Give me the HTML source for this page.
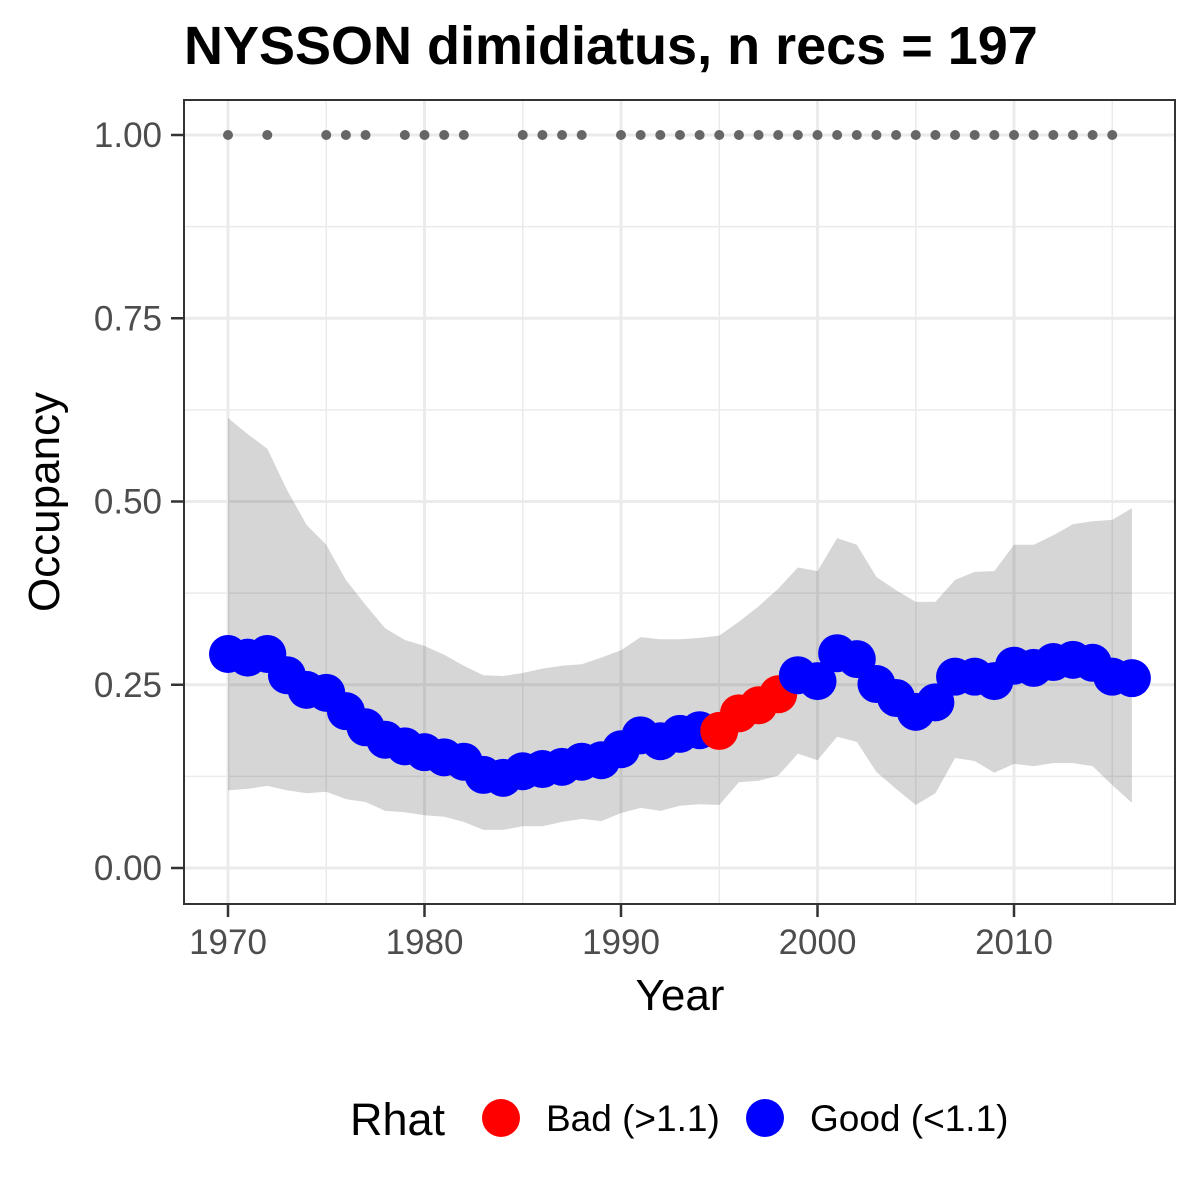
<!DOCTYPE html>
<html><head><meta charset="utf-8"><style>
html,body{margin:0;padding:0;background:#fff;}
svg{display:block;font-family:"Liberation Sans",Arial,sans-serif;}
</style></head><body>
<svg id="chart" width="1200" height="1200" viewBox="0 0 1200 1200">
<text x="184" y="64" font-size="54" font-weight="bold" fill="#000">NYSSON dimidiatus, n recs = 197</text>
<g id="grid"></g>
<g id="ribbon"></g>
<g id="recs"></g>
<g id="pts"></g>
<rect x="184" y="100" width="991" height="804" fill="none" stroke="#333" stroke-width="2"/>
<g id="axes"></g>
<text x="680" y="1010" font-size="44" text-anchor="middle" fill="#000">Year</text>
<text transform="translate(59,502) rotate(-90)" font-size="44" text-anchor="middle" fill="#000">Occupancy</text>
<g>
<text x="350" y="1135" font-size="45" fill="#000">Rhat</text>
<circle cx="501" cy="1118" r="19" fill="#ff0000"/>
<text x="546" y="1131" font-size="37" fill="#000">Bad (&gt;1.1)</text>
<circle cx="765" cy="1118" r="19" fill="#0000ff"/>
<text x="810" y="1131" font-size="37" fill="#000">Good (&lt;1.1)</text>
</g>
</svg>
<script>
const years = [1970,1971,1972,1973,1974,1975,1976,1977,1978,1979,1980,1981,1982,1983,1984,1985,1986,1987,1988,1989,1990,1991,1992,1993,1994,1995,1996,1997,1998,1999,2000,2001,2002,2003,2004,2005,2006,2007,2008,2009,2010,2011,2012,2013,2014,2015,2016];
const meanOcc = [0.292,0.287,0.292,0.263,0.243,0.239,0.214,0.192,0.175,0.166,0.158,0.151,0.145,0.127,0.123,0.132,0.135,0.138,0.145,0.147,0.162,0.181,0.173,0.183,0.188,0.187,0.211,0.222,0.237,0.263,0.255,0.293,0.285,0.251,0.232,0.213,0.226,0.261,0.261,0.255,0.276,0.273,0.281,0.284,0.280,0.261,0.259];
const upperCI = [0.614,0.592,0.572,0.516,0.468,0.441,0.393,0.359,0.327,0.311,0.303,0.291,0.276,0.263,0.262,0.266,0.272,0.276,0.278,0.287,0.297,0.315,0.312,0.312,0.314,0.317,0.336,0.357,0.381,0.410,0.405,0.450,0.441,0.397,0.379,0.363,0.363,0.393,0.404,0.405,0.441,0.441,0.454,0.469,0.473,0.475,0.491];
const lowerCI = [0.106,0.108,0.112,0.106,0.102,0.104,0.094,0.090,0.078,0.076,0.072,0.070,0.063,0.052,0.052,0.057,0.057,0.063,0.067,0.064,0.075,0.082,0.078,0.085,0.087,0.086,0.117,0.119,0.126,0.156,0.147,0.179,0.172,0.131,0.108,0.086,0.102,0.150,0.146,0.130,0.142,0.139,0.143,0.143,0.139,0.113,0.089];
const rhatBad = [1995,1996,1997,1998];
const recordYears = [1970,1972,1975,1976,1977,1979,1980,1981,1982,1985,1986,1987,1988,1990,1991,1992,1993,1994,1995,1996,1997,1998,1999,2000,2001,2002,2003,2004,2005,2006,2007,2008,2009,2010,2011,2012,2013,2014,2015];
const xTicks = [1970,1980,1990,2000,2010];
const xMinor = [1975,1985,1995,2005,2015];
const yTicks = [0,0.25,0.5,0.75,1];
const yTickLabels = ["0.00","0.25","0.50","0.75","1.00"];
const yMinor = [0.125,0.375,0.625,0.875];

const NS = "http://www.w3.org/2000/svg";
const X = y => 228 + (y - 1970) * 19.65;
const Y = v => 868 - v * 733;
function mk(tag, attrs, parent){
  const e = document.createElementNS(NS, tag);
  for (const k in attrs) e.setAttribute(k, attrs[k]);
  parent.appendChild(e);
  return e;
}
const grid = document.getElementById('grid');
yMinor.forEach(v=>{const l=mk('line',{x1:184,x2:1175,y1:Y(v),y2:Y(v),stroke:'#ebebeb','stroke-width':1.5},grid);

});
xMinor.forEach(v=>{const l=mk('line',{x1:X(v),x2:X(v),y1:100,y2:904,stroke:'#ebebeb','stroke-width':1.5},grid);

});
yTicks.forEach(v=>{const l=mk('line',{x1:184,x2:1175,y1:Y(v),y2:Y(v),stroke:'#ebebeb','stroke-width':3},grid);

});
xTicks.forEach(v=>{const l=mk('line',{x1:X(v),x2:X(v),y1:100,y2:904,stroke:'#ebebeb','stroke-width':3},grid);

});

let d = years.map((y,i)=>(i?'L':'M')+X(y)+','+Y(upperCI[i])).join('');
for (let i=years.length-1;i>=0;i--) d += 'L'+X(years[i])+','+Y(lowerCI[i]);
const rib = mk('path',{d:d+'Z',fill:'#333333','fill-opacity':0.2},document.getElementById('ribbon'));



const recs = document.getElementById('recs');
recordYears.forEach(y=>{const c=mk('circle',{cx:X(y),cy:Y(1),r:5,fill:'#666666'},recs);

});

const pts = document.getElementById('pts');
years.forEach((y,i)=>{const bad=rhatBad.includes(y);
const c=mk('circle',{cx:X(y),cy:Y(meanOcc[i]),r:19,fill:bad?'#ff0000':'#0000ff'},pts);

});

const axes = document.getElementById('axes');
yTicks.forEach((v,i)=>{
  const t=mk('line',{x1:171,x2:184,y1:Y(v),y2:Y(v),stroke:'#333','stroke-width':2.5},axes);
  
  
  const tx=mk('text',{x:162,y:Y(v)+12,'font-size':35,'text-anchor':'end',fill:'#4d4d4d'},axes);
  tx.textContent=yTickLabels[i];
  
  
});
xTicks.forEach(v=>{
  const t=mk('line',{x1:X(v),x2:X(v),y1:904,y2:917,stroke:'#333','stroke-width':2.5},axes);
  
  
  const tx=mk('text',{x:X(v),y:954,'font-size':35,'text-anchor':'middle',fill:'#4d4d4d'},axes);
  tx.textContent=String(v);
  
  
});
</script>
</body></html>
